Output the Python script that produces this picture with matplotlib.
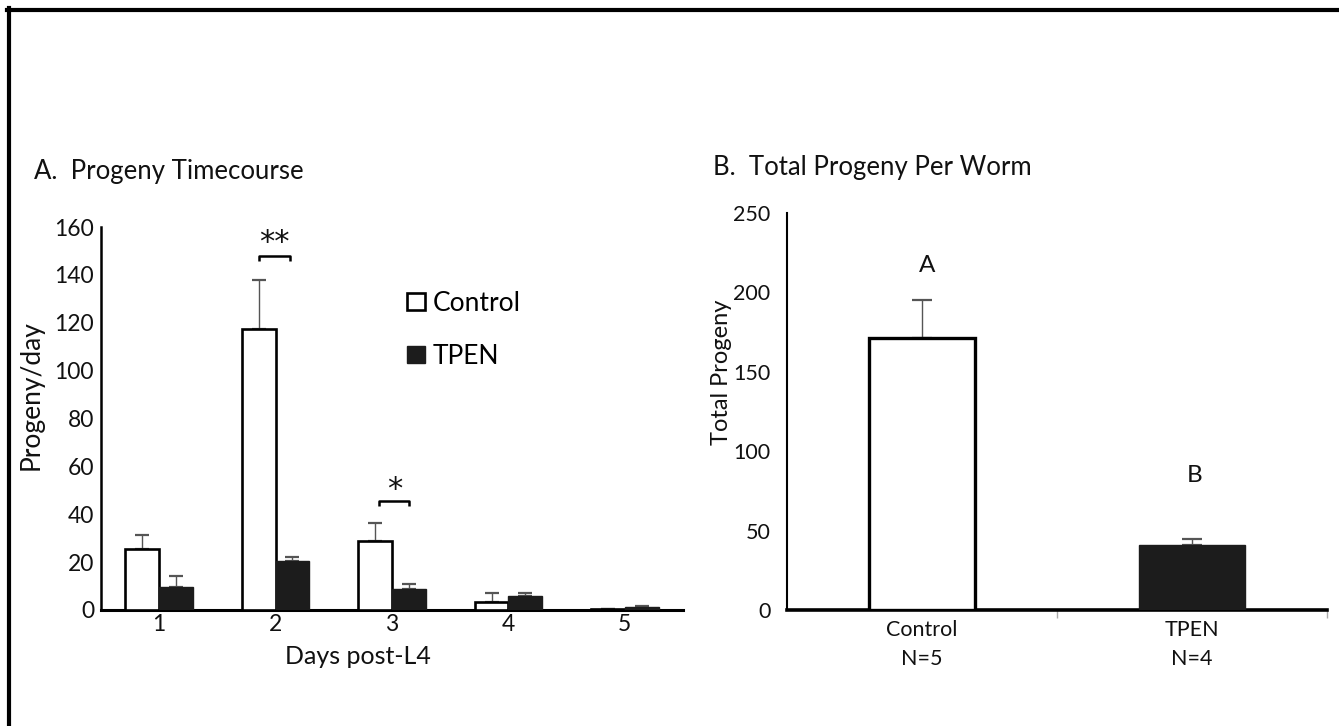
import matplotlib
matplotlib.use("Agg")
import matplotlib.pyplot as plt
from matplotlib.lines import Line2D
import numpy as np

# ---------------- data ----------------
days = [1, 2, 3, 4, 5]
day_labels = ["1", "2", "3", "4", "5"]
control_mean = [25.5, 117.5, 29, 3.5, 0.5]
control_err = [6, 20.5, 7.2, 3.5, 0]
tpen_mean = [9.6, 20.3, 8.6, 5.8, 1.2]
tpen_err = [4.6, 1.7, 2.3, 1.2, 0.5]

groups = ["Control", "TPEN"]
group_n = ["N=5", "N=4"]
total_mean = [171, 41]
total_err = [24, 4]
total_letters = ["A", "B"]

# ---------------- figure ----------------
W, H = 1339, 726
fig = plt.figure(figsize=(W / 100, H / 100), dpi=100)
FONT = "Lato"
INK = "#111111"


def fx(px):
    return px / W


def fy(py):
    return 1 - py / H


# ---------------- panel A ----------------
axA = fig.add_axes([fx(101), fy(610), fx(683) - fx(101), fy(227) - fy(610)])
x = np.array(days, dtype=float)
bw = 0.29
bc = axA.bar(x - 0.145, control_mean, width=bw, color="white", edgecolor="black",
             linewidth=1.9, zorder=3, label="Control")
bt = axA.bar(x + 0.145, tpen_mean, width=bw, color="#1c1c1c", edgecolor="#1c1c1c",
             linewidth=1.0, zorder=3, label="TPEN")
axA.errorbar(x - 0.145, control_mean, yerr=[np.zeros(5), control_err], fmt="none",
             ecolor="#555555", elinewidth=1.0, capsize=5, capthick=1.6, zorder=2)
axA.errorbar(x + 0.145, tpen_mean, yerr=[np.zeros(5), tpen_err], fmt="none",
             ecolor="#555555", elinewidth=1.0, capsize=5, capthick=1.6, zorder=2)
axA.set_xlim(0.5, 5.5)
axA.set_ylim(0, 160)
axA.set_yticks(range(0, 161, 20))
axA.set_xticks(days)
axA.set_xticklabels(day_labels)
for s in ["top", "right"]:
    axA.spines[s].set_visible(False)
axA.spines["left"].set_linewidth(1.8)
axA.spines["bottom"].set_linewidth(2.2)
axA.tick_params(axis="both", length=0, labelsize=16.5, colors=INK)
axA.tick_params(axis="y", pad=5)
axA.tick_params(axis="x", pad=3)
for lab in axA.get_xticklabels() + axA.get_yticklabels():
    lab.set_fontfamily(FONT)

fig.text(fx(31), fy(395), "Progeny/day", rotation=90, fontsize=19, fontfamily=FONT,
         ha="center", va="center", color=INK)
fig.text(fx(358), fy(657), "Days post-L4", fontsize=18, fontfamily=FONT,
         ha="center", va="center", color=INK)


# significance brackets
def bracket(ax, x0, x1, y, dy, txt, ty):
    ax.plot([x0, x0, x1, x1], [y - dy, y, y, y - dy], color="black", lw=1.8,
            solid_capstyle="butt", zorder=4)
    ax.text((x0 + x1) / 2, ty, txt, ha="center", va="center", fontsize=22,
            fontfamily="DejaVu Sans", color=INK)


bracket(axA, 2 - 0.14, 2 + 0.12, 148, 2.2, "**", 153.5)
bracket(axA, 3 - 0.11, 3 + 0.15, 45.5, 2.2, "*", 50.5)

leg = axA.legend(handles=[bc, bt], loc="upper left", bbox_to_anchor=(0.526, 0.833),
                 frameon=False, handlelength=0.66, handleheight=0.62,
                 handletextpad=0.3, labelspacing=1.05, borderpad=0, borderaxespad=0,
                 prop={"family": FONT, "size": 19})

fig.text(fx(34), fy(172), "A.  Progeny Timecourse", fontsize=18.5, fontfamily=FONT,
         ha="left", va="center", color=INK)

# ---------------- panel B ----------------
axB = fig.add_axes([fx(787), fy(610), fx(1327) - fx(787), fy(213) - fy(610)])
xb = np.array([0.5, 1.5])
axB.bar(xb, total_mean, width=0.39, color=["white", "#1c1c1c"],
        edgecolor=["black", "#1c1c1c"], linewidth=[2.4, 1.0], zorder=3)
axB.errorbar(xb, total_mean, yerr=[np.zeros(2), total_err], fmt="none",
             ecolor="#555555", elinewidth=1.0, capsize=7, capthick=1.6, zorder=2)
axB.text(0.52, 217, total_letters[0], ha="center", va="center", fontsize=17.5,
         fontfamily=FONT, color=INK)
axB.text(1.51, 85, total_letters[1], ha="center", va="center", fontsize=17.5,
         fontfamily=FONT, color=INK)
axB.set_xlim(0, 2)
axB.set_ylim(0, 250)
axB.set_yticks(range(0, 251, 50))
axB.set_xticks([1, 2])
axB.set_xticklabels(["", ""])
axB.set_xticks(xb, minor=True)
axB.set_xticklabels([f"{g}\n{n}" for g, n in zip(groups, group_n)], minor=True)
for s in ["top", "right"]:
    axB.spines[s].set_visible(False)
axB.spines["left"].set_linewidth(1.5)
axB.spines["bottom"].set_linewidth(2.6)
axB.tick_params(axis="x", which="major", length=6, width=1, color="#aaaaaa", direction="out")
axB.tick_params(axis="x", which="minor", length=0, pad=7, labelsize=15.5, colors=INK)
axB.tick_params(axis="y", length=0, pad=12, labelsize=15.5, colors=INK)
for lab in axB.get_xticklabels(minor=True):
    lab.set_fontfamily(FONT)
    lab.set_linespacing(1.6)
for lab in axB.get_yticklabels():
    lab.set_fontfamily(FONT)

fig.text(fx(722), fy(372), "Total Progeny", rotation=90, fontsize=17, fontfamily=FONT,
         ha="center", va="center", color=INK)
fig.text(fx(713), fy(168), "B.  Total Progeny Per Worm", fontsize=18.5, fontfamily=FONT,
         ha="left", va="center", color=INK)

# ---------------- frame (top & left border) ----------------
fig.add_artist(Line2D([fx(7), 1], [fy(10), fy(10)], color="black", lw=3.0,
                      transform=fig.transFigure))
fig.add_artist(Line2D([fx(9), fx(9)], [fy(8), 0], color="black", lw=3.0,
                      transform=fig.transFigure))

fig.savefig("out.png", dpi=100, facecolor="white")
